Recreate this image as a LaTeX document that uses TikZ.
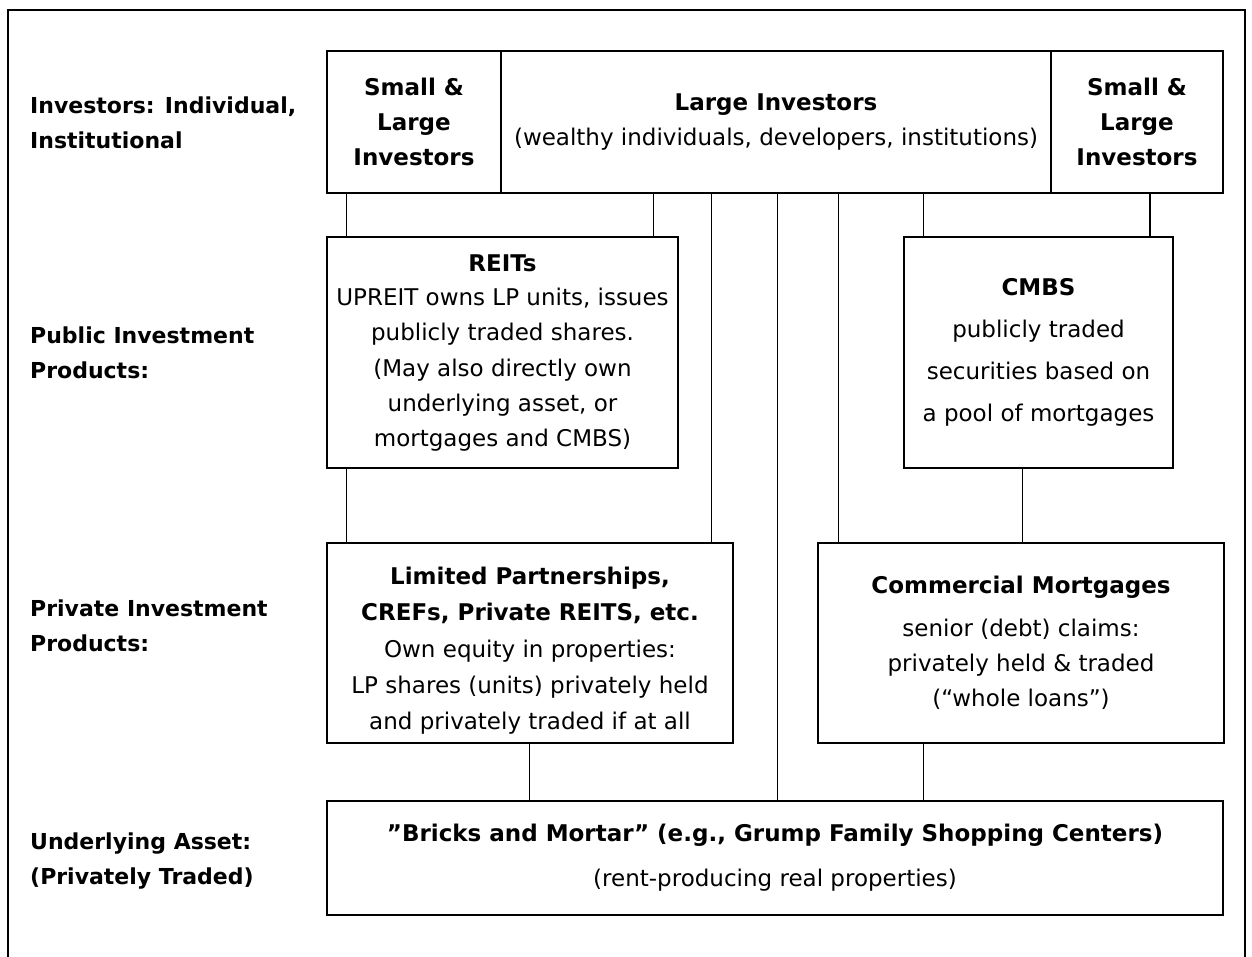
\documentclass[tikz,border=0pt]{standalone}
\usepackage{fontspec}
\setmainfont{DejaVu Sans}
\newcommand{\bx}{\fontsize{23}{35}\selectfont}
\newcommand{\lb}{\fontsize{22}{35}\selectfont}
\begin{document}
\begin{tikzpicture}[x=1pt,y=-1pt,
  box/.style={draw,line width=2pt,inner sep=0pt,align=center,anchor=north west,font=\bx},
  conn/.style={line width=1pt},
  lbl/.style={anchor=west,align=left,font=\lb\bfseries,inner sep=0pt}]
\useasboundingbox (0,0) rectangle (1252,956);
% outer frame
\draw[line width=2pt] (8,970) -- (8,10) -- (1245,10) -- (1245,970);
% row labels
\node[lbl] (l1) at (30,123) {Investors: Individual,\\Institutional};
\node[lbl] (l2) at (30,353) {Public Investment\\Products:};
\node[lbl] (l3) at (30,626) {Private Investment\\Products:};
\node[lbl] (l4) at (30,861) {Underlying Asset:\\(Privately Traded)};
% top boxes
\node[box,minimum width=174pt,minimum height=142pt] (topL) at (326,50)
  {\bfseries Small \&\\\bfseries Large\\\bfseries Investors};
\node[box,minimum width=550pt,minimum height=142pt] (topM) at (500,50)
  {\bfseries Large Investors\\(wealthy individuals, developers, institutions)};
\node[box,minimum width=172pt,minimum height=142pt] (topR) at (1050,50)
  {\bfseries Small \&\\\bfseries Large\\\bfseries Investors};
% public products
\node[box,minimum width=351pt,minimum height=231pt] (reits) at (326,236)
  {\bfseries REITs\\UPREIT owns LP units, issues\\publicly traded shares.\\(May also directly own\\underlying asset, or\\mortgages and CMBS)};
\node[box,minimum width=269pt,minimum height=231pt,font={\fontsize{23}{42}\selectfont}] (cmbs) at (903,236)
  {\bfseries CMBS\\publicly traded\\securities based on\\a pool of mortgages};
% private products
\node[box,minimum width=406pt,minimum height=200pt,font={\fontsize{23}{36}\selectfont}] (lp) at (326,542)
  {\rule{0pt}{33pt}\bfseries Limited Partnerships,\\\bfseries CREFs, Private REITS, etc.\\[1pt]Own equity in properties:\\LP shares (units) privately held\\and privately traded if at all};
\node[box,minimum width=406pt,minimum height=200pt] (cm) at (817,542)
  {\bfseries Commercial Mortgages\\[8pt]senior (debt) claims:\\privately held \& traded\\(``whole loans'')};
% underlying
\node[box,minimum width=896pt,minimum height=114pt] (brick) at (326,800)
  {\bfseries "Bricks and Mortar" (e.g., Grump Family Shopping Centers)\\[10pt](rent-producing real properties)};
% connector x positions
\coordinate (c1) at (346,0);
\coordinate (c2) at (653,0);
\coordinate (c3) at (711,0);
\coordinate (c4) at (777,0);
\coordinate (c5) at (838,0);
\coordinate (c6) at (923,0);
\coordinate (c7) at (1150,0);
\coordinate (c8) at (1022,0);
\coordinate (c9) at (529,0);
% connectors
\draw[conn] (topL.south -| c1) -- (reits.north -| c1);
\draw[conn] (topM.south -| c2) -- (reits.north -| c2);
\draw[conn] (topM.south -| c3) -- (lp.north -| c3);
\draw[conn] (topM.south -| c4) -- (brick.north -| c4);
\draw[conn] (topM.south -| c5) -- (cm.north -| c5);
\draw[conn] (topM.south -| c6) -- (cmbs.north -| c6);
\draw[line width=2pt] (topR.south -| c7) -- (cmbs.north -| c7);
\draw[conn] (reits.south -| c1) -- (lp.north -| c1);
\draw[conn] (cmbs.south -| c8) -- (cm.north -| c8);
\draw[conn] (lp.south -| c9) -- (brick.north -| c9);
\draw[conn] (cm.south -| c6) -- (brick.north -| c6);
\end{tikzpicture}
\end{document}
